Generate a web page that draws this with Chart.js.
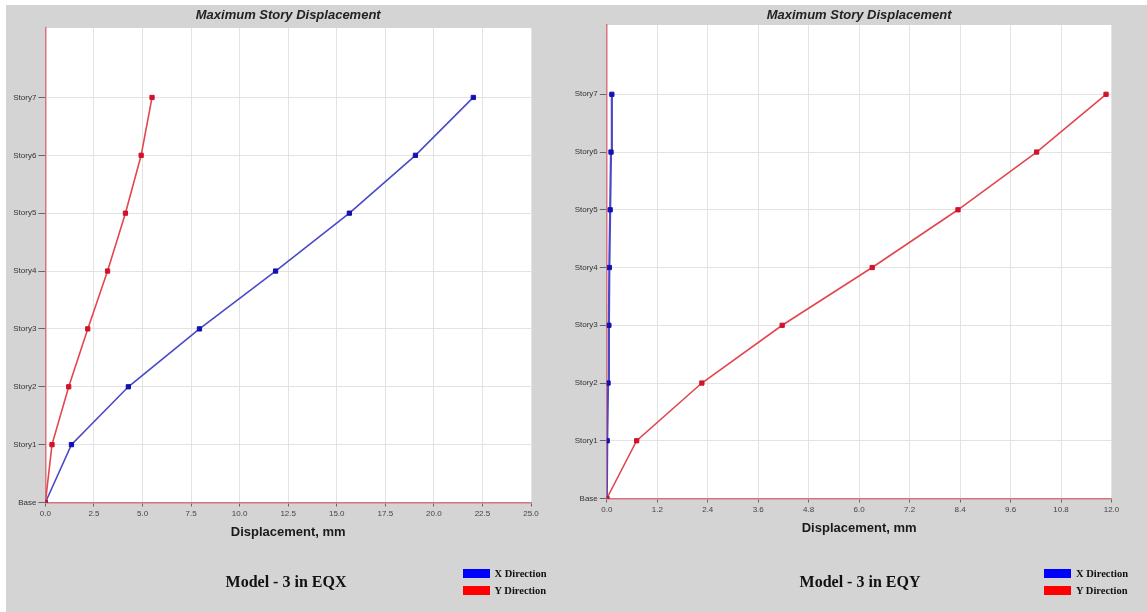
<!DOCTYPE html>
<html>
<head>
<meta charset="utf-8">
<script src="https://cdn.jsdelivr.net/npm/chart.js@4.4.1/dist/chart.umd.min.js"></script>
<style>
  html, body { margin: 0; padding: 0; background: #ffffff; width: 1147px; height: 612px; overflow: hidden; }
  #panel { position: absolute; left: 6px; top: 5px; right: 0; bottom: 0; background: #d4d4d4; }
  canvas { position: absolute; left: 0; top: 0; }
  .caption { position: absolute; font: bold 16px "Liberation Serif", "Times New Roman", serif; color: #111;
             transform: translate(-50%, -50%); white-space: nowrap; }
  .legend { position: absolute; font: bold 10.5px "Liberation Serif", "Times New Roman", serif; color: #111; }
  .legend .row { display: flex; align-items: center; height: 17px; white-space: nowrap; }
  .legend .sw { width: 27px; height: 9px; margin-right: 5px; }
</style>
</head>
<body>
<div id="panel"></div>
<canvas id="chartEqx" width="1147" height="612"></canvas>
<canvas id="chartEqy" width="1147" height="612"></canvas>

<script>
// Story levels (y axis categories, bottom to top)
const stories = ['Base', 'Story1', 'Story2', 'Story3', 'Story4', 'Story5', 'Story6', 'Story7'];

// Series names and colours
const seriesNames = ['X Direction', 'Y Direction'];
const seriesColors = ['#0000ff', '#ff0000'];

// Model - 3 under EQX: maximum displacement per story (mm)
const eqxXDir = [0, 1.34, 4.27, 7.93, 11.85, 15.65, 19.05, 22.03];
const eqxYDir = [0, 0.34, 1.20, 2.18, 3.20, 4.12, 4.93, 5.49];

// Model - 3 under EQY: maximum displacement per story (mm)
const eqyXDir = [0, 0.01, 0.03, 0.05, 0.06, 0.08, 0.10, 0.12];
const eqyYDir = [0, 0.71, 2.26, 4.17, 6.31, 8.35, 10.22, 11.87];

// Displacement axis tick values
const eqxTicks = [0, 2.5, 5, 7.5, 10, 12.5, 15, 17.5, 20, 22.5, 25];
const eqyTicks = [0, 1.2, 2.4, 3.6, 4.8, 6.0, 7.2, 8.4, 9.6, 10.8, 12.0];

const chartTitle = 'Maximum Story Displacement';
const axisTitle = 'Displacement, mm';

Chart.defaults.font.family = '"Liberation Sans", Arial, sans-serif';

const PAGE_W = 1147, PAGE_H = 612;
const Y_AXIS_W = 40, X_AXIS_H = 60;

// White plot area and the bold italic heading centred over it
const panelPlugin = {
  id: 'panel',
  beforeDraw(chart, args, opts) {
    const { ctx, chartArea: a } = chart;
    ctx.save();
    ctx.fillStyle = '#ffffff';
    ctx.fillRect(a.left, a.top, a.right - a.left, a.bottom - a.top);
    ctx.font = 'italic bold 13px "Liberation Sans", Arial, sans-serif';
    ctx.fillStyle = '#222222';
    ctx.textAlign = 'center';
    ctx.textBaseline = 'middle';
    ctx.fillText(opts.title, (a.left + a.right) / 2, opts.titleY);
    ctx.restore();
  }
};

const toPoints = vals => vals.map((v, i) => ({ x: v, y: i }));

function buildChart(id, xVals, yVals, ticks, area) {
  const lineColors = ['#4a4ac8', '#e2474f'];
  const markColors = ['#1212b0', '#d0122a'];
  const datasets = [xVals, yVals].map((vals, k) => ({
    label: seriesNames[k],
    data: toPoints(vals),
    showLine: true,
    tension: 0,
    borderColor: lineColors[k],
    borderWidth: k === 0 && area.thickX ? 2.2 : 1.6,
    pointStyle: 'rect',
    pointRadius: 3,
    pointBackgroundColor: markColors[k],
    pointBorderColor: markColors[k],
    pointBorderWidth: 1,
    order: k === 0 ? 1 : 0
  }));

  return new Chart(document.getElementById(id), {
    type: 'scatter',
    data: { datasets },
    options: {
      responsive: false,
      animation: false,
      events: [],
      layout: {
        padding: {
          left: area.left - Y_AXIS_W,
          right: PAGE_W - area.right,
          top: area.top,
          bottom: PAGE_H - area.bottom - X_AXIS_H
        }
      },
      plugins: {
        legend: { display: false },
        tooltip: { enabled: false },
        panel: { title: chartTitle, titleY: 15.5 }
      },
      scales: {
        x: {
          type: 'linear',
          min: ticks[0],
          max: ticks[ticks.length - 1],
          afterBuildTicks: s => { s.ticks = ticks.map(v => ({ value: v })); },
          afterFit: s => { s.height = X_AXIS_H; },
          ticks: { callback: v => Number(v).toFixed(1), font: { size: 8 }, color: '#444', padding: 2,
                   maxRotation: 0, autoSkip: false },
          grid: { color: '#e3e3e3', tickColor: '#666', tickLength: 4, lineWidth: 1 },
          border: { color: '#d8747c', width: 1.5 },
          title: { display: true, text: axisTitle, color: '#1a1a1a',
                   font: { size: 13, weight: 'bold' },
                   padding: { top: 0, bottom: X_AXIS_H - 29.5 - 7.8 } }
        },
        y: {
          type: 'linear',
          min: 0,
          max: 8.2,
          afterBuildTicks: s => { s.ticks = stories.map((_, i) => ({ value: i })); },
          afterFit: s => { s.width = Y_AXIS_W; },
          ticks: { callback: v => stories[v], font: { size: 8 }, color: '#333', padding: 2, autoSkip: false },
          grid: { color: '#e3e3e3', tickColor: '#666', tickLength: 7, lineWidth: 1 },
          border: { color: '#d8747c', width: 1.5 }
        }
      }
    },
    plugins: [panelPlugin]
  });
}

buildChart('chartEqx', eqxXDir, eqxYDir, eqxTicks, { left: 45.4, right: 531, top: 28, bottom: 502.5 });
buildChart('chartEqy', eqyXDir, eqyYDir, eqyTicks, { left: 606.8, right: 1111.5, top: 25, bottom: 498.5, thickX: true });

// Captions and legends below each chart
function addCaption(text, cx, cy) {
  const d = document.createElement('div');
  d.className = 'caption';
  d.textContent = text;
  d.style.left = cx + 'px';
  d.style.top = cy + 'px';
  document.body.appendChild(d);
}
function addLegend(left, top) {
  const box = document.createElement('div');
  box.className = 'legend';
  box.style.left = left + 'px';
  box.style.top = top + 'px';
  seriesNames.forEach((name, i) => {
    const row = document.createElement('div');
    row.className = 'row';
    const sw = document.createElement('span');
    sw.className = 'sw';
    sw.style.background = seriesColors[i];
    const t = document.createElement('span');
    t.textContent = name;
    row.appendChild(sw);
    row.appendChild(t);
    box.appendChild(row);
  });
  document.body.appendChild(box);
}
addCaption('Model - 3 in EQX', 286, 582);
addCaption('Model - 3 in EQY', 860, 582);
addLegend(462.5, 564.5);
addLegend(1044, 564.5);
</script>
</body>
</html>
